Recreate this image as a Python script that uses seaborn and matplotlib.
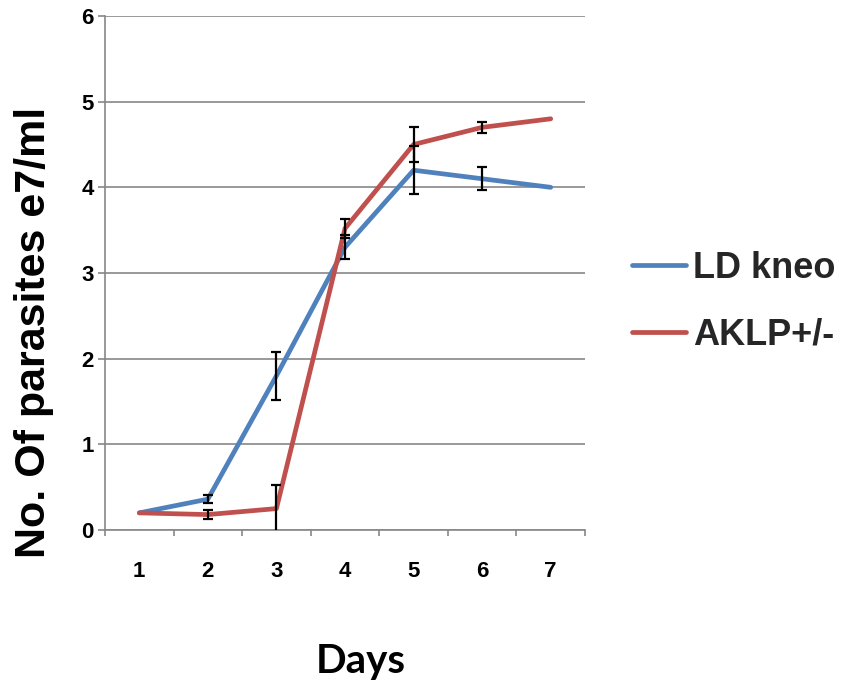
import numpy as np
import pandas as pd
import matplotlib
matplotlib.use("Agg")
import matplotlib.pyplot as plt
from matplotlib.lines import Line2D
from matplotlib.ticker import FixedLocator
import seaborn as sns

# Growth curve data (parasites, x1e7 per ml)
days = [1, 2, 3, 4, 5, 6, 7]
ld_kneo = [0.20, 0.36, 1.80, 3.30, 4.20, 4.10, 4.00]
ld_kneo_err = [None, 0.05, 0.28, 0.14, 0.28, 0.135, None]
aklp = [0.20, 0.18, 0.25, 3.52, 4.50, 4.70, 4.80]
aklp_err = [None, 0.05, 0.28, 0.11, 0.21, 0.065, None]
series_names = ["LD kneo", "AKLP+/-"]
series_colors = ["#4F81BD", "#C0504D"]
y_ticks = [0, 1, 2, 3, 4, 5, 6]

df = pd.DataFrame({
    "Days": days * 2,
    "Count": ld_kneo + aklp,
    "Strain": [series_names[0]] * len(days) + [series_names[1]] * len(days),
})

sns.set_theme(style="white")
plt.rcParams["font.family"] = ["Liberation Sans", "DejaVu Sans"]

grid_gray = "#878787"

fig = plt.figure(figsize=(8.41, 6.85), dpi=100)
ax = fig.add_axes([105 / 841, 1 - 530 / 685, 480 / 841, 514 / 685])

sns.lineplot(
    data=df, x="Days", y="Count", hue="Strain",
    palette=dict(zip(series_names, series_colors)),
    linewidth=3.4, ax=ax, legend=False, zorder=3,
    solid_capstyle="round", solid_joinstyle="round",
)

# Error bars (standard deviation) on top of the lines
for vals, errs in [(ld_kneo, ld_kneo_err), (aklp, aklp_err)]:
    xs = [d for d, e in zip(days, errs) if e is not None]
    ys = [v for v, e in zip(vals, errs) if e is not None]
    es = [e for e in errs if e is not None]
    ax.errorbar(xs, ys, yerr=es, fmt="none", ecolor="black",
                elinewidth=1.6, capsize=3.4, capthick=1.6, zorder=4)

ax.set_xlim(0.5, 7.5)
ax.set_ylim(0, 6)
ax.set_xticks(days)
ax.xaxis.set_minor_locator(FixedLocator(np.arange(0.5, 8.0, 1.0)))
ax.set_yticks(y_ticks)

ax.grid(axis="y", color=grid_gray, linewidth=1.2)
ax.grid(axis="x", visible=False)
ax.set_axisbelow(True)

for side in ["top", "right"]:
    ax.spines[side].set_visible(False)
for side in ["left", "bottom"]:
    ax.spines[side].set_color(grid_gray)
    ax.spines[side].set_linewidth(1.2)

ax.tick_params(axis="x", which="major", length=0, pad=22,
               labelsize=16, labelcolor="black")
ax.tick_params(axis="x", which="minor", bottom=True, length=4.5,
               width=1.2, color=grid_gray, direction="out")
ax.tick_params(axis="y", which="major", left=True, length=5, width=1.2,
               color=grid_gray, direction="out", pad=3,
               labelsize=16, labelcolor="black")
for lbl in ax.get_xticklabels() + ax.get_yticklabels():
    lbl.set_fontweight("bold")

ax.set_ylabel("No. Of parasites e7/ml", fontsize=31, fontweight="bold",
              color="black", va="center", ha="center")
ax.yaxis.set_label_coords(-(105 - 34) / 480, (530 - 332) / 514)
ax.set_xlabel("Days", fontsize=29, fontweight="bold", color="black",
              family=["Lato", "DejaVu Sans"], va="center", ha="center")
ax.xaxis.set_label_coords((361 - 105) / 480, -(662 - 530) / 514)

handles = [Line2D([], [], color=c, linewidth=3.4, solid_capstyle="round")
           for c in series_colors]
fig.legend(handles, series_names, loc="center left",
           bbox_to_anchor=(632 / 841, 1 - 301.5 / 685),
           frameon=False, borderpad=0, borderaxespad=0,
           handlelength=1.5, handletextpad=0.18, labelspacing=0.88,
           prop={"family": ["Liberation Sans", "DejaVu Sans"],
                 "weight": "bold", "size": 26})

fig.savefig("out.png", dpi=100)
